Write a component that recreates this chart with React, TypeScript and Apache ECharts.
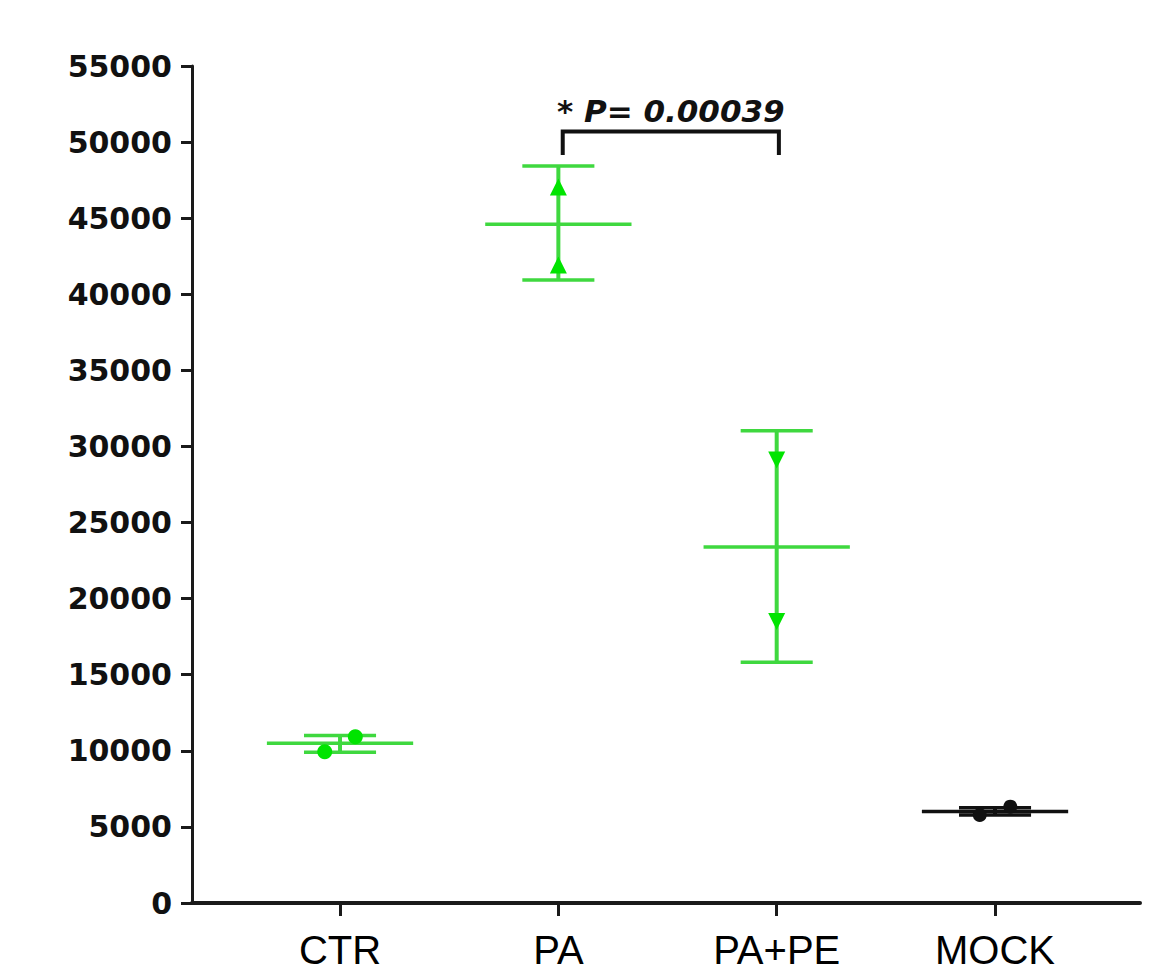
import React, { useEffect, useRef } from 'react';
import * as echarts from 'echarts';

// ---- data ----
const categories = ['CTR', 'PA', 'PA+PE', 'MOCK'];
const means = [10490, 44600, 23400, 6020];
const lowerBars = [9900, 40940, 15820, 5780];
const upperBars = [11000, 48430, 31030, 6260];
const replicateA = [9940, 47050, 29110, 5780];
const replicateB = [10930, 41920, 18490, 6330];
const jitterA = [-0.07, 0, 0, -0.07];
const jitterB = [0.07, 0, 0, 0.07];
const yMin = 0;
const yMax = 55000;
const yInterval = 5000;
const comparisonFrom = 1.02;
const comparisonTo = 2.01;
const comparisonTop = 50700;
const comparisonLegBottom = 49150;
const comparisonLabel = '* P= 0.00039';

// ---- styles ----
const lineColors = ['#3fd83f', '#3fd83f', '#3fd83f', '#111111'];
const pointColors = ['#00e400', '#00e400', '#00e400', '#111111'];
const symbols = ['circle', 'triangle', 'triangle', 'circle'];
const symbolRotations = [0, 0, 180, 0];
const symbolSizes = [15, 17, 17, 14];
const meanHalfWidth = 0.335;
const capHalfWidth = 0.165;

export default function App() {
  const ref = useRef<HTMLDivElement>(null);
  useEffect(() => {
    if (!ref.current) return;
    const chart = echarts.init(ref.current, null, { renderer: 'svg' });

    const errData = categories.map((_, i) => [i, means[i], lowerBars[i], upperBars[i]]);

    const scatterSeries = categories.map((name, i) => ({
      type: 'scatter',
      name,
      z: 5,
      symbol: symbols[i],
      symbolRotate: symbolRotations[i],
      symbolSize: symbolSizes[i],
      itemStyle: { color: pointColors[i], opacity: 1 },
      data: [
        [i + jitterA[i], replicateA[i]],
        [i + jitterB[i], replicateB[i]],
      ],
    }));

    const option: any = {
      animation: false,
      backgroundColor: '#ffffff',
      grid: { left: 192, right: 10, top: 66, bottom: 70, containLabel: false },
      xAxis: {
        type: 'value',
        min: -0.678,
        max: 3.664,
        splitLine: { show: false },
        axisLine: { show: true, onZero: false, lineStyle: { color: '#1a1a1a', width: 4 } },
        axisTick: {
          show: true,
          customValues: [0, 1, 2, 3],
          length: 13,
          lineStyle: { color: '#1a1a1a', width: 3 },
        },
        axisLabel: {
          customValues: [0, 1, 2, 3],
          formatter: (v: number) => categories[Math.round(v)] ?? '',
          fontFamily: '"Liberation Sans", Arial, sans-serif',
          fontSize: 40,
          lineHeight: 40,
          color: '#000',
          margin: 27,
        },
      },
      yAxis: {
        type: 'value',
        min: yMin,
        max: yMax,
        interval: yInterval,
        splitLine: { show: false },
        axisLine: { show: true, onZero: false, lineStyle: { color: '#1a1a1a', width: 3 } },
        axisTick: { show: true, length: 11, lineStyle: { color: '#1a1a1a', width: 3 } },
        axisLabel: {
          formatter: (v: number) => String(v),
          fontFamily: '"DejaVu Sans", sans-serif',
          fontWeight: 'bold',
          fontSize: 30,
          color: '#111',
          margin: 20,
        },
      },
      series: [
        {
          type: 'custom',
          name: 'errorbars',
          z: 3,
          data: errData,
          encode: { x: 0, y: 1 },
          renderItem: (params: any, api: any) => {
            const i = api.value(0);
            const mean = api.value(1);
            const lo = api.value(2);
            const hi = api.value(3);
            const color = lineColors[params.dataIndex];
            const pMeanL = api.coord([i - meanHalfWidth, mean]);
            const pMeanR = api.coord([i + meanHalfWidth, mean]);
            const pHiL = api.coord([i - capHalfWidth, hi]);
            const pHiR = api.coord([i + capHalfWidth, hi]);
            const pLoL = api.coord([i - capHalfWidth, lo]);
            const pLoR = api.coord([i + capHalfWidth, lo]);
            const pHi = api.coord([i, hi]);
            const pLo = api.coord([i, lo]);
            const style = { stroke: color, lineWidth: 3.5, fill: null };
            return {
              type: 'group',
              children: [
                { type: 'line', shape: { x1: pHi[0], y1: pHi[1], x2: pLo[0], y2: pLo[1] }, style: { ...style, lineWidth: 4 } },
                { type: 'line', shape: { x1: pHiL[0], y1: pHiL[1], x2: pHiR[0], y2: pHiR[1] }, style },
                { type: 'line', shape: { x1: pLoL[0], y1: pLoL[1], x2: pLoR[0], y2: pLoR[1] }, style },
                { type: 'line', shape: { x1: pMeanL[0], y1: pMeanL[1], x2: pMeanR[0], y2: pMeanR[1] }, style },
              ],
            };
          },
        },
        ...scatterSeries,
        {
          type: 'custom',
          name: 'comparison',
          z: 6,
          data: [[comparisonFrom, comparisonTo, comparisonTop, comparisonLegBottom]],
          encode: { x: [0, 1], y: [2, 3] },
          renderItem: (_params: any, api: any) => {
            const a = api.value(0);
            const b = api.value(1);
            const top = api.value(2);
            const bottom = api.value(3);
            const p1 = api.coord([a, bottom]);
            const p2 = api.coord([a, top]);
            const p3 = api.coord([b, top]);
            const p4 = api.coord([b, bottom]);
            const mid = api.coord([(a + b) / 2, top]);
            return {
              type: 'group',
              children: [
                {
                  type: 'polyline',
                  shape: { points: [p1, p2, p3, p4] },
                  style: { stroke: '#111', lineWidth: 4, fill: null },
                },
                {
                  type: 'text',
                  x: mid[0],
                  y: mid[1] - 5,
                  style: {
                    text: comparisonLabel,
                    fontFamily: '"DejaVu Sans", sans-serif',
                    fontWeight: 'bold',
                    fontStyle: 'italic',
                    fontSize: 31,
                    fill: '#111',
                    align: 'center',
                    verticalAlign: 'bottom',
                  },
                },
              ],
            };
          },
        },
      ],
    };
    chart.setOption(option);
    return () => chart.dispose();
  }, []);
  return (
    <div
      ref={ref}
      style={{ position: 'fixed', left: 0, top: 0, width: 1150, height: 973, background: '#fff' }}
    />
  );
}
